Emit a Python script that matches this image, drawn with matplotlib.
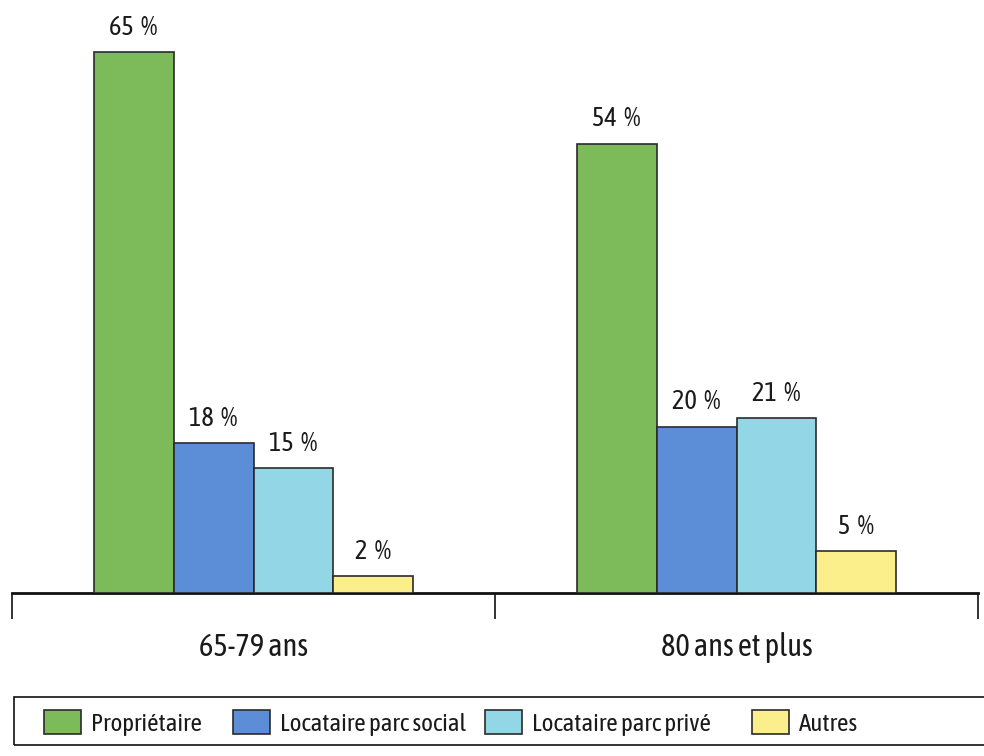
import matplotlib
matplotlib.use("Agg")
import matplotlib.pyplot as plt
from matplotlib.patches import Rectangle
import numpy as np

groups = ["65-79 ans", "80 ans et plus"]
series = ["Propriétaire", "Locataire parc social", "Locataire parc privé", "Autres"]
values = {
    "Propriétaire": [65, 54],
    "Locataire parc social": [18, 20],
    "Locataire parc privé": [15, 21],
    "Autres": [2, 5],
}
colors = ["#7dba5a", "#5b8ed6", "#93d6e6", "#fbef8c"]

plt.rcParams['font.family'] = ['Asap Condensed', 'Barlow Condensed', 'DejaVu Sans']

W, H = 984, 756
fig = plt.figure(figsize=(W / 100, H / 100), dpi=100)
ax = fig.add_axes([12 / W, 1 - 593 / H, 966 / W, 582.4 / H])

bw = 0.1656
centers = np.array([0.5, 1.5])
handles = []
for i, s in enumerate(series):
    x = centers + (i - 1.5) * bw
    bars = ax.bar(x, values[s], width=bw, color=colors[i], edgecolor="#2b2b2b",
                  linewidth=1.2, label=s, zorder=3)
    handles.append(bars)
    for xi, v in zip(x, values[s]):
        ax.text(xi, v + 1.5, f"{v}  %", ha="center", va="bottom", fontsize=19,
                color="#1a1a1a")

ax.set_xlim(0, 2)
ax.set_ylim(0, 70)
for sp in ["top", "right", "left"]:
    ax.spines[sp].set_visible(False)
ax.spines["bottom"].set_linewidth(2)
ax.spines["bottom"].set_color("#111111")
ax.set_yticks([])
ax.set_xticks([0, 1, 2])
ax.set_xticklabels([])
ax.tick_params(axis="x", direction="out", length=19, width=1.2, color="#111111")
ax.set_xticks(centers, minor=True)
ax.set_xticklabels(groups, minor=True, fontsize=22, color="#1a1a1a")
ax.tick_params(axis="x", which="minor", length=0, pad=28)

# legend frame (extends past the right edge as in the reference)
fig.patches.append(Rectangle((14 / W, 11 / H), 990 / W, 48 / H, transform=fig.transFigure,
                             fill=False, edgecolor="#111111", linewidth=1.2, clip_on=False))
leg_x = [44, 233, 485, 752]
for h, s, lx in zip(handles, series, leg_x):
    lg = fig.legend(handles=[h], labels=[s], loc="center left",
                    bbox_to_anchor=(lx / W, 33 / H), frameon=False, fontsize=18,
                    handlelength=1.48, handleheight=1.08, handletextpad=0.4,
                    borderpad=0, borderaxespad=0)
    for t in lg.get_texts():
        t.set_color("#1a1a1a")

fig.savefig("out.png", dpi=100)
